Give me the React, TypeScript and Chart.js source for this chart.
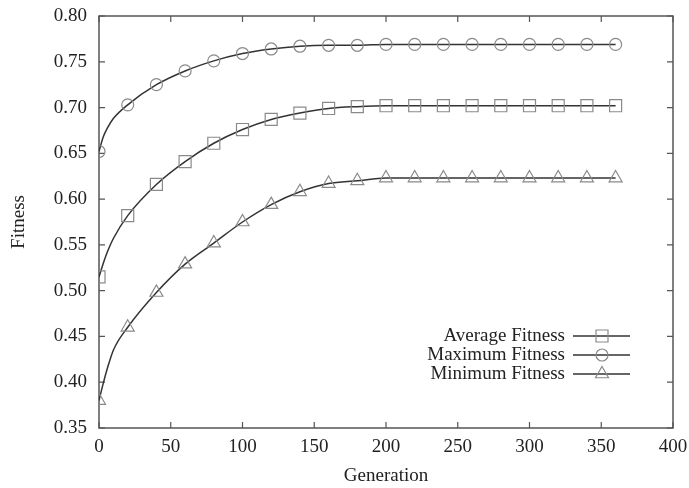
import React, { useEffect, useRef } from "react";
import { Chart, registerables } from "chart.js";

Chart.register(...registerables);

// Marker samples (every 20 generations)
const markerGenerations = [0, 20, 40, 60, 80, 100, 120, 140, 160, 180, 200, 220, 240, 260, 280, 300, 320, 340, 360];
const averageFitness = [0.515, 0.582, 0.616, 0.641, 0.661, 0.676, 0.687, 0.694, 0.699, 0.701, 0.702, 0.702, 0.702, 0.702, 0.702, 0.702, 0.702, 0.702, 0.702];
const maximumFitness = [0.652, 0.703, 0.725, 0.740, 0.751, 0.759, 0.764, 0.767, 0.768, 0.768, 0.769, 0.769, 0.769, 0.769, 0.769, 0.769, 0.769, 0.769, 0.769];
const minimumFitness = [0.380, 0.460, 0.498, 0.529, 0.552, 0.575, 0.594, 0.608, 0.617, 0.620, 0.623, 0.623, 0.623, 0.623, 0.623, 0.623, 0.623, 0.623, 0.623];

// Extra curve samples read near the start, where the curves rise steeply
const earlyGenerations = [3, 6, 10];
const earlyAverage = [0.530, 0.543, 0.557];
const earlyMaximum = [0.668, 0.678, 0.688];
const earlyMinimum = [0.399, 0.416, 0.435];

const xTickValues = [0, 50, 100, 150, 200, 250, 300, 350, 400];
const yTickValues = [0.35, 0.4, 0.45, 0.5, 0.55, 0.6, 0.65, 0.7, 0.75, 0.8];

const seriesNames = ["Average Fitness", "Maximum Fitness", "Minimum Fitness"];
const seriesMarkers = ["rect", "circle", "triangle"];
const markerRadii = [8.5, 6, 7.5];

const FONT = "'Liberation Serif', 'Times New Roman', serif";
const LINE_COLOR = "#333333";
const MARKER_COLOR = "#8a8a8a";
const FRAME_COLOR = "#555555";
const TEXT_COLOR = "#222222";

function toPoints(xs: number[], ys: number[]) {
  return xs.map((x, i) => ({ x, y: ys[i] }));
}

function curvePoints(xs: number[], ys: number[], ex: number[], ey: number[]) {
  return [...toPoints(xs, ys), ...toPoints(ex, ey)].sort((a, b) => a.x - b.x);
}

function drawMarker(ctx: CanvasRenderingContext2D, style: string, x: number, y: number, r: number) {
  ctx.beginPath();
  if (style === "circle") {
    ctx.arc(x, y, r, 0, Math.PI * 2);
  } else if (style === "rect") {
    const s = Math.SQRT1_2 * r;
    ctx.rect(x - s, y - s, 2 * s, 2 * s);
  } else {
    let rad = 0;
    ctx.moveTo(x + Math.sin(rad) * r, y - Math.cos(rad) * r);
    rad += (2 * Math.PI) / 3;
    ctx.lineTo(x + Math.sin(rad) * r, y - Math.cos(rad) * r);
    rad += (2 * Math.PI) / 3;
    ctx.lineTo(x + Math.sin(rad) * r, y - Math.cos(rad) * r);
    ctx.closePath();
  }
  ctx.stroke();
}

const framePlugin = {
  id: "gnuplotFrame",
  beforeDatasetsDraw(chart: any) {
    const { ctx, chartArea } = chart;
    const { left, right, top, bottom } = chartArea;
    const xs = chart.scales.x;
    const ys = chart.scales.y;
    ctx.save();
    ctx.strokeStyle = FRAME_COLOR;
    ctx.lineWidth = 1.5;
    ctx.strokeRect(left, top, right - left, bottom - top);
    ctx.lineWidth = 1.2;
    const tl = 6;
    ctx.beginPath();
    xTickValues.forEach((v) => {
      const px = xs.getPixelForValue(v);
      ctx.moveTo(px, bottom);
      ctx.lineTo(px, bottom - tl);
      ctx.moveTo(px, top);
      ctx.lineTo(px, top + tl);
    });
    yTickValues.forEach((v) => {
      const py = ys.getPixelForValue(v);
      ctx.moveTo(left, py);
      ctx.lineTo(left + tl, py);
      ctx.moveTo(right, py);
      ctx.lineTo(right - tl, py);
    });
    ctx.stroke();
    ctx.restore();
  },
  afterDraw(chart: any) {
    const { ctx, chartArea } = chart;
    const { right, bottom } = chartArea;
    ctx.save();
    ctx.font = `19px ${FONT}`;
    ctx.textAlign = "right";
    ctx.textBaseline = "middle";
    seriesNames.forEach((name, i) => {
      const y = bottom - 92 + i * 19;
      ctx.fillStyle = TEXT_COLOR;
      ctx.fillText(name, right - 108, y);
      ctx.strokeStyle = LINE_COLOR;
      ctx.lineWidth = 1.5;
      ctx.beginPath();
      ctx.moveTo(right - 100, y);
      ctx.lineTo(right - 43, y);
      ctx.stroke();
      ctx.strokeStyle = MARKER_COLOR;
      ctx.lineWidth = 1.2;
      drawMarker(ctx, seriesMarkers[i], right - 71, y, markerRadii[i]);
    });
    ctx.restore();
  },
};

function zeroPadding(scale: any) {
  scale.paddingLeft = 0;
  scale.paddingRight = 0;
  scale.paddingTop = 0;
  scale.paddingBottom = 0;
}

export default function App() {
  const canvasRef = useRef<HTMLCanvasElement | null>(null);

  useEffect(() => {
    document.body.style.margin = "0";
    const canvas = canvasRef.current;
    if (!canvas) return;

    const seriesValues = [averageFitness, maximumFitness, minimumFitness];
    const earlyValues = [earlyAverage, earlyMaximum, earlyMinimum];

    const datasets: any[] = [];
    seriesValues.forEach((vals, i) => {
      datasets.push({
        label: seriesNames[i] + " curve",
        data: curvePoints(markerGenerations, vals, earlyGenerations, earlyValues[i]),
        showLine: true,
        borderColor: LINE_COLOR,
        borderWidth: 1.5,
        pointRadius: 0,
        cubicInterpolationMode: "monotone",
        fill: false,
        order: 1,
      });
      datasets.push({
        label: seriesNames[i],
        data: toPoints(markerGenerations, vals),
        showLine: false,
        pointStyle: seriesMarkers[i],
        pointRadius: markerRadii[i],
        pointBorderColor: MARKER_COLOR,
        pointBackgroundColor: "rgba(0,0,0,0)",
        pointBorderWidth: 1.2,
        order: 0,
      });
    });

    const chart = new Chart(canvas, {
      type: "scatter",
      data: { datasets },
      options: {
        responsive: false,
        animation: false,
        devicePixelRatio: 1,
        layout: { padding: { top: 16, right: 16, left: 0, bottom: 0 } },
        plugins: {
          legend: { display: false },
          tooltip: { enabled: false },
        },
        scales: {
          x: {
            type: "linear",
            min: 0,
            max: 400,
            afterBuildTicks: (scale: any) => {
              scale.ticks = xTickValues.map((v) => ({ value: v }));
            },
            afterFit: (scale: any) => {
              scale.height = 60;
              zeroPadding(scale);
            },
            grid: { display: false, drawTicks: false },
            border: { display: false },
            ticks: {
              font: { family: FONT, size: 19 },
              color: TEXT_COLOR,
              padding: 8,
              maxRotation: 0,
              callback: (v: any) => String(v),
            },
            title: {
              display: true,
              text: "Generation",
              font: { family: FONT, size: 19 },
              color: TEXT_COLOR,
              padding: { top: 0, bottom: 1 },
            },
          },
          y: {
            type: "linear",
            min: 0.35,
            max: 0.8,
            afterBuildTicks: (scale: any) => {
              scale.ticks = yTickValues.map((v) => ({ value: v }));
            },
            afterFit: (scale: any) => {
              scale.width = 99;
              zeroPadding(scale);
            },
            grid: { display: false, drawTicks: false },
            border: { display: false },
            ticks: {
              font: { family: FONT, size: 19 },
              color: TEXT_COLOR,
              padding: 12,
              callback: (v: any) => Number(v).toFixed(2),
            },
            title: {
              display: true,
              text: "Fitness",
              font: { family: FONT, size: 19 },
              color: TEXT_COLOR,
              padding: { top: 8, bottom: 0 },
            },
          },
        },
      },
      plugins: [framePlugin],
    } as any);

    return () => chart.destroy();
  }, []);

  return (
    <div style={{ width: 689, height: 488, background: "#fff" }}>
      <canvas ref={canvasRef} width={689} height={488} style={{ display: "block", width: 689, height: 488 }} />
    </div>
  );
}
